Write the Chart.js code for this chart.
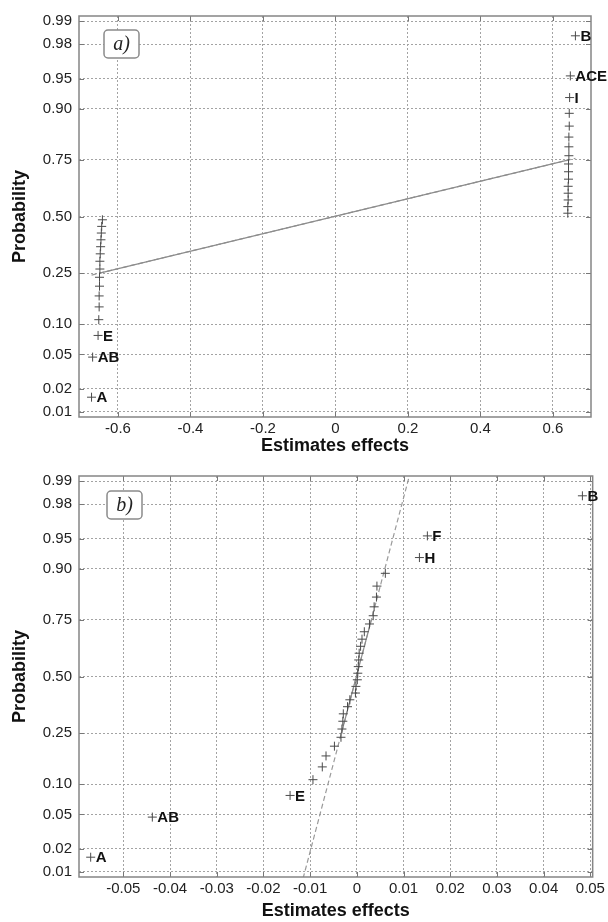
<!DOCTYPE html>
<html>
<head>
<meta charset="utf-8">
<script src="https://cdn.jsdelivr.net/npm/chart.js@4/dist/chart.umd.min.js"></script>
<style>
  html, body { margin: 0; padding: 0; background: #fff; }
  canvas { display: block; }
</style>
</head>
<body>
<canvas id="plotA" width="608" height="460"></canvas>
<canvas id="plotB" width="608" height="462"></canvas>
<script>
// effect estimates, sorted ascending (panel a)
const effectsA = [-0.673, -0.670, -0.655, -0.653, -0.652, -0.652, -0.651, -0.651,
                  -0.650, -0.650, -0.649, -0.648, -0.647, -0.646, -0.645, -0.643,
                   0.641,  0.641,  0.642,  0.642,  0.642,  0.643,  0.643,  0.643,
                   0.644,  0.644,  0.644,  0.645,  0.645,  0.646,  0.648,  0.662];
const namesA = ['A', 'AB', 'E', '', '', '', '', '', '', '', '', '', '', '', '', '',
                '', '', '', '', '', '', '', '', '', '', '', '', '', 'I', 'ACE', 'B'];

// effect estimates, sorted ascending (panel b)
const effectsB = [-0.0570, -0.0438, -0.0143, -0.0094, -0.0074, -0.0066, -0.0048, -0.0034,
                  -0.0032, -0.0030, -0.0029, -0.0020, -0.0015, -0.0003, -0.0002,  0.0001,
                   0.0002,  0.0003,  0.0004,  0.0005,  0.0008,  0.0011,  0.0016,  0.0027,
                   0.0035,  0.0037,  0.0042,  0.0043,  0.0061,  0.0134,  0.0151,  0.0483];
const namesB = ['A', 'AB', 'E', '', '', '', '', '', '', '', '', '', '', '', '', '',
                '', '', '', '', '', '', '', '', '', '', '', '', '', 'H', 'F', 'B'];

const probTicks = [0.01, 0.02, 0.05, 0.10, 0.25, 0.50, 0.75, 0.90, 0.95, 0.98, 0.99];
const probLabels = ['0.01', '0.02', '0.05', '0.10', '0.25', '0.50', '0.75', '0.90', '0.95', '0.98', '0.99'];

const xTicksA = [-0.6, -0.4, -0.2, 0, 0.2, 0.4, 0.6];
const xLabelsA = ['-0.6', '-0.4', '-0.2', '0', '0.2', '0.4', '0.6'];
const xTicksB = [-0.05, -0.04, -0.03, -0.02, -0.01, 0, 0.01, 0.02, 0.03, 0.04, 0.05];
const xLabelsB = ['-0.05', '-0.04', '-0.03', '-0.02', '-0.01', '0', '0.01', '0.02', '0.03', '0.04', '0.05'];

const xRangeA = [-0.7076, 0.705];
const xRangeB = [-0.0595, 0.0505];
const zRange = [-2.39, 2.39];

// inverse standard normal cdf (Acklam)
function probit(p) {
  const a = [-3.969683028665376e+01, 2.209460984245205e+02, -2.759285104469687e+02,
             1.383577518672690e+02, -3.066479806614716e+01, 2.506628277459239e+00];
  const b = [-5.447609879822406e+01, 1.615858368580409e+02, -1.556989798598866e+02,
             6.680131188771972e+01, -1.328068155288572e+01];
  const c = [-7.784894002430293e-03, -3.223964580411365e-01, -2.400758277161838e+00,
             -2.549732539343734e+00, 4.374664141464968e+00, 2.938163982698783e+00];
  const d = [7.784695709041462e-03, 3.224671290700398e-01, 2.445134137142996e+00,
             3.754408661907416e+00];
  const lo = 0.02425;
  let q, r;
  if (p < lo || p > 1 - lo) {
    q = Math.sqrt(-2 * Math.log(p < lo ? p : 1 - p));
    const v = (((((c[0]*q + c[1])*q + c[2])*q + c[3])*q + c[4])*q + c[5]) /
              ((((d[0]*q + d[1])*q + d[2])*q + d[3])*q + 1);
    return p < lo ? v : -v;
  }
  q = p - 0.5; r = q * q;
  return (((((a[0]*r + a[1])*r + a[2])*r + a[3])*r + a[4])*r + a[5]) * q /
         (((((b[0]*r + b[1])*r + b[2])*r + b[3])*r + b[4])*r + 1);
}

// percentile the way prctile does it: sample i sits at (i - 0.5) / n
function prctile(sorted, p) {
  const pos = p * sorted.length + 0.5;
  const i = Math.floor(pos), f = pos - i;
  return sorted[i - 1] + f * (sorted[i] - sorted[i - 1]);
}

const frame = {
  id: 'frame',
  afterDraw(chart, args, opts) {
    const { ctx, chartArea: a, scales: { x, y } } = chart;
    ctx.save();

    // small inward ticks on every side
    ctx.strokeStyle = '#777';
    ctx.lineWidth = 1;
    ctx.beginPath();
    x.ticks.forEach(t => {
      const px = Math.round(x.getPixelForValue(t.value)) + 0.5;
      ctx.moveTo(px, a.bottom); ctx.lineTo(px, a.bottom - 5);
      ctx.moveTo(px, a.top); ctx.lineTo(px, a.top + 5);
    });
    y.ticks.forEach(t => {
      const py = Math.round(y.getPixelForValue(t.value)) + 0.5;
      ctx.moveTo(a.left, py); ctx.lineTo(a.left + 5, py);
      ctx.moveTo(a.right, py); ctx.lineTo(a.right - 5, py);
    });
    ctx.stroke();

    ctx.strokeStyle = '#858585';
    ctx.lineWidth = 1.5;
    ctx.strokeRect(a.left, a.top, a.right - a.left, a.bottom - a.top);

    // effect names next to their marks
    const pts = chart.getDatasetMeta(0).data;
    ctx.font = 'bold 15px "Liberation Sans", Arial, sans-serif';
    ctx.fillStyle = '#111';
    ctx.textAlign = 'left';
    ctx.textBaseline = 'middle';
    opts.names.forEach((nm, i) => {
      if (nm) ctx.fillText(nm, pts[i].x + 5, pts[i].y + 1);
    });

    // panel tag
    const bx = a.left + opts.tagDx, by = a.top + opts.tagDy, bw = 35, bh = 28;
    ctx.beginPath();
    ctx.roundRect(bx, by, bw, bh, 4);
    ctx.fillStyle = '#fff';
    ctx.fill();
    ctx.strokeStyle = '#8a8a8a';
    ctx.lineWidth = 1.5;
    ctx.stroke();
    ctx.fillStyle = '#222';
    ctx.font = 'italic 20px "Liberation Serif", "Times New Roman", serif';
    ctx.textAlign = 'center';
    ctx.fillText(opts.tag, bx + bw / 2, by + bh / 2 + 1);
    ctx.restore();
  }
};

function makePlot(id, effects, names, xRange, xTicks, xLabels, cfg) {
  const n = effects.length;
  // plotting position of the i-th ordered effect
  const pts = effects.map((v, i) => ({ x: v, y: probit((i + 0.5) / n) }));

  const q1 = prctile(effects, 0.25), q3 = prctile(effects, 0.75);
  const z1 = probit(0.25), z3 = probit(0.75);
  const zAt = v => z1 + (v - q1) * (z3 - z1) / (q3 - q1);
  const lo = effects[0], hi = effects[n - 1];

  const tickFont = { family: '"Liberation Sans", Arial, sans-serif', size: 15 };
  const titleFont = { family: '"Liberation Sans", Arial, sans-serif', size: 18, weight: 'bold' };

  new Chart(document.getElementById(id), {
    type: 'scatter',
    data: {
      datasets: [{
        data: pts,
        pointStyle: 'cross',
        pointRadius: 4.5,
        borderColor: '#4a4a4a',
        borderWidth: 1
      }, {
        type: 'line',
        data: [{ x: q1, y: z1 }, { x: q3, y: z3 }],
        borderColor: '#8c8c8c',
        borderWidth: 1.2,
        pointRadius: 0
      }, {
        type: 'line',
        data: [{ x: lo, y: zAt(lo) }, { x: hi, y: zAt(hi) }],
        borderColor: '#9a9a9a',
        borderWidth: 1.2,
        borderDash: [5, 3],
        pointRadius: 0
      }]
    },
    options: {
      responsive: false,
      animation: false,
      layout: { padding: cfg.padding },
      plugins: {
        legend: { display: false },
        tooltip: { enabled: false },
        frame: { names: names, tag: cfg.tag, tagDx: cfg.tagDx, tagDy: cfg.tagDy }
      },
      scales: {
        x: {
          type: 'linear',
          min: xRange[0],
          max: xRange[1],
          afterBuildTicks: s => { s.ticks = xTicks.map(v => ({ value: v })); },
          afterFit: s => { s.height = cfg.xHeight; },
          ticks: {
            autoSkip: false,
            maxRotation: 0,
            padding: 3,
            color: '#222',
            font: tickFont,
            callback: (v, i) => xLabels[i]
          },
          grid: { color: '#a3a3a3', lineWidth: 1, drawTicks: false },
          border: { display: false, dash: [2, 2] },
          title: {
            display: true,
            text: 'Estimates effects',
            color: '#111',
            font: titleFont,
            padding: { top: 0, bottom: cfg.xTitlePad }
          }
        },
        y: {
          type: 'linear',
          min: zRange[0],
          max: zRange[1],
          afterBuildTicks: s => { s.ticks = probTicks.map(p => ({ value: probit(p) })); },
          afterFit: s => { s.width = 79; },
          ticks: {
            autoSkip: false,
            padding: 7,
            color: '#222',
            font: tickFont,
            callback: (v, i) => probLabels[i]
          },
          grid: { color: '#a3a3a3', lineWidth: 1, drawTicks: false },
          border: { display: false, dash: [2, 2] },
          title: {
            display: true,
            text: 'Probability',
            color: '#111',
            font: titleFont,
            padding: { top: 9, bottom: 0 }
          }
        }
      }
    },
    plugins: [frame]
  });
}

makePlot('plotA', effectsA, namesA, xRangeA, xTicksA, xLabelsA,
  { padding: { top: 14, right: 17, left: 0, bottom: 0 }, xHeight: 43, xTitlePad: 3, tag: 'a)', tagDx: 25, tagDy: 14 });
makePlot('plotB', effectsB, namesB, xRangeB, xTicksB, xLabelsB,
  { padding: { top: 14, right: 14, left: 0, bottom: 0 }, xHeight: 45, xTitlePad: 0, tag: 'b)', tagDx: 28, tagDy: 15 });
</script>
</body>
</html>
